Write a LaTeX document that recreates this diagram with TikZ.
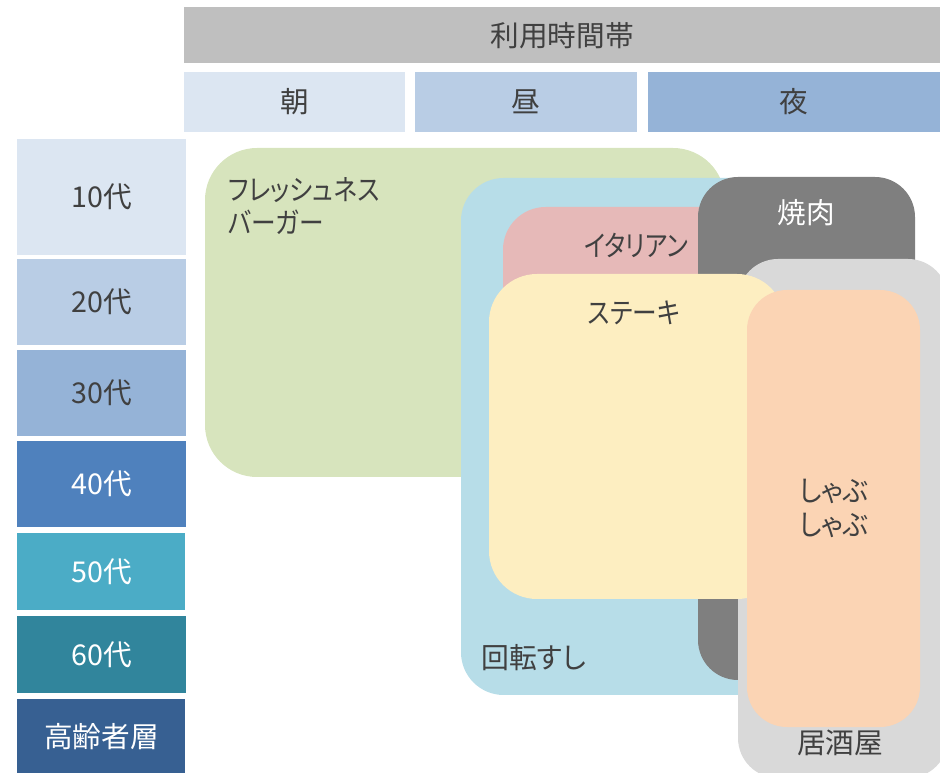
\documentclass[tikz,border=0pt]{standalone}
\usepackage{fontspec}
\setmainfont{Noto Sans CJK JP}[RawFeature={+palt}]
\definecolor{txt}{HTML}{404040}
\definecolor{hdr}{HTML}{BFBFBF}
\definecolor{c1}{HTML}{DCE6F2}
\definecolor{c2}{HTML}{B9CDE5}
\definecolor{c3}{HTML}{95B3D7}
\definecolor{c4}{HTML}{4F81BD}
\definecolor{c5}{HTML}{4BACC6}
\definecolor{c6}{HTML}{31859C}
\definecolor{c7}{HTML}{376092}
\definecolor{grn}{HTML}{D7E4BD}
\definecolor{blu}{HTML}{B7DDE8}
\definecolor{pnk}{HTML}{E6B9B8}
\definecolor{dgr}{HTML}{7F7F7F}
\definecolor{lgr}{HTML}{D9D9D9}
\definecolor{ylw}{HTML}{FDEEC1}
\definecolor{pch}{HTML}{FBD4B4}
\tikzset{
  lbl/.style={text=txt, font=\fontsize{21.5pt}{25pt}\selectfont, inner sep=0pt},
  wlbl/.style={lbl, text=white},
}
\newcommand{\nrw}[1]{\addfontfeature{FakeStretch=#1}}
\begin{document}
\begin{tikzpicture}[x=0.75pt, y=-0.75pt]
\useasboundingbox (0,0) rectangle (940,773);
% header
\fill[hdr] (184,7) rectangle (940,63);
\node[lbl] (hdr) at (562,36) {利用時間帯};
% time bands
\fill[c1] (184,72) rectangle (405,132);
\fill[c2] (415,72) rectangle (637,132);
\fill[c3] (648,72) rectangle (940,132);
\node[lbl] (asa) at (294.5,102) {朝};
\node[lbl] (hiru) at (526,102) {昼};
\node[lbl] (yoru) at (794,102) {夜};
% age column
\fill[c1] (17,139) rectangle (186,255);
\fill[c2] (17,259) rectangle (186,345);
\fill[c3] (17,350) rectangle (186,436);
\fill[c4] (17,441) rectangle (186,527);
\fill[c5] (17,533) rectangle (185,610);
\fill[c6] (17,616) rectangle (186,693);
\fill[c7] (17,699) rectangle (185,773);
\node[lbl] (a10) at (101.5,197) {10代};
\node[lbl] (a20) at (101.5,302) {20代};
\node[lbl] (a30) at (101.5,393) {30代};
\node[wlbl] (a40) at (101.5,484) {40代};
\node[wlbl] (a50) at (101.5,571.5) {50代};
\node[wlbl] (a60) at (101.5,654.5) {60代};
\node[wlbl] (a70) at (101.5,737) {高齢者層};
% restaurant regions
\fill[grn, rounded corners=39pt] (205,148) rectangle (725,477);
\fill[blu, rounded corners=32pt] (461,178) rectangle (790,695);
\fill[pnk, rounded corners=32pt] (503,207) rectangle (760,420);
\fill[dgr, rounded corners=30pt] (698,177) rectangle (915,680);
\fill[lgr, rounded corners=30pt] (738,259) rectangle (948,778);
\fill[ylw, rounded corners=36pt] (489,274) rectangle (785,599);
\fill[pch, rounded corners=30pt] (747,290) rectangle (920,727);
% labels
\node[lbl, anchor=west, align=left] (fresh) at (228,206) {\nrw{0.86}フレッシュネス\\\nrw{0.86}バーガー};
\node[lbl] (ital) at (636,245) {\nrw{0.84}イタリアン};
\node[wlbl] (yaki) at (806,213) {焼肉};
\node[lbl] (steak) at (634,312.5) {\nrw{0.86}ステーキ};
\node[lbl] (sushi) at (534,658) {\nrw{0.97}回転すし};
\node[lbl, align=center] (shabu) at (834,508.5) {\nrw{0.92}しゃぶ\\\nrw{0.92}しゃぶ};
\node[lbl] (izaka) at (840,742.5) {居酒屋};
\end{tikzpicture}
\end{document}
